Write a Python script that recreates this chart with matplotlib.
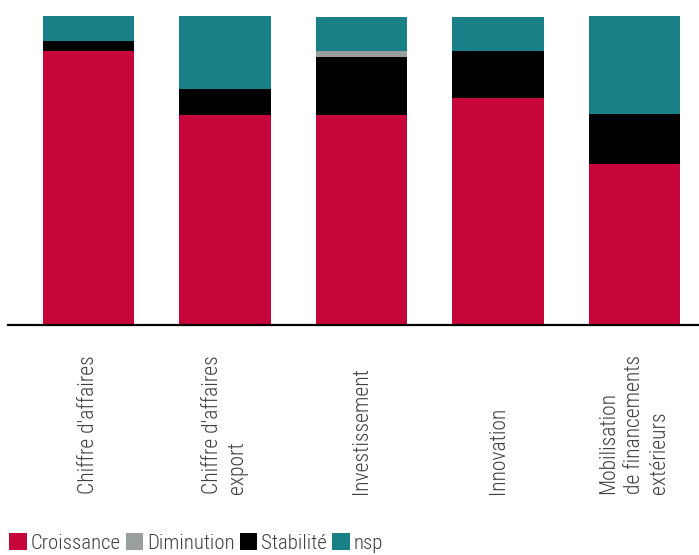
import matplotlib
matplotlib.use("Agg")
import matplotlib.pyplot as plt
from matplotlib import font_manager, transforms
from matplotlib.patches import Patch
import numpy as np

categories = [
    "Chiffre d'affaires",
    "Chiffre d'affaires\nexport",
    "Investissement",
    "Innovation",
    "Mobilisation\nde financements\nextérieurs",
]
croissance = [88.7, 67.9, 67.9, 73.4, 52.2]
diminution = [0.0, 0.0, 1.9, 0.0, 0.0]
stabilite = [3.2, 8.4, 18.8, 15.2, 16.1]
nsp = [8.1, 23.6, 11.0, 11.0, 31.7]

colors = {
    "Croissance": "#c6063a",
    "Diminution": "#99a09b",
    "Stabilité": "#000000",
    "nsp": "#1a8087",
}
values = {
    "Croissance": croissance,
    "Diminution": diminution,
    "Stabilité": stabilite,
    "nsp": nsp,
}
stack_order = ["Croissance", "Stabilité", "Diminution", "nsp"]
legend_order = ["Croissance", "Diminution", "Stabilité", "nsp"]

# pick a narrow sans face if one is available
entries = font_manager.fontManager.ttflist
names = {f.name for f in entries}
font_kw = {"family": "DejaVu Sans"}
for cand in ["Roboto Condensed", "Liberation Sans Narrow", "DejaVu Sans Condensed",
             "Open Sans Condensed", "Noto Sans Condensed"]:
    if cand in names:
        font_kw = {"family": cand, "weight": "light"}
        break
else:
    cond = [f for f in entries if "condensed" in str(f.stretch)]
    if cond:
        font_kw = {"family": cond[0].name, "stretch": "condensed"}

text_color = "#3f3f3f"
W, H = 699, 555
fig = plt.figure(figsize=(W / 100, H / 100), dpi=100)
ax = fig.add_axes([8 / W, (H - 324.7) / H, 691 / W, 308.7 / H])

x = np.arange(len(categories))
bottom = np.zeros(len(categories))
for name in stack_order:
    vals = np.array(values[name])
    ax.bar(x, vals, width=0.667, bottom=bottom, color=colors[name], linewidth=0, zorder=2)
    bottom += vals

ax.set_xlim(-80.5 / 136.5, (699 - 88.5) / 136.5)
ax.set_ylim(0, 100)
ax.axhline(0, color="black", linewidth=1.6, zorder=3, clip_on=False)
for s in ax.spines.values():
    s.set_visible(False)
ax.set_xticks([])
ax.set_yticks([])

trans = transforms.blended_transform_factory(ax.transData, fig.transFigure)
for xi, lab in zip(x, categories):
    ax.text(xi, 1 - 494 / H, lab, transform=trans, rotation=90, ha="center", va="bottom",
            multialignment="left", fontsize=15.5, color=text_color, linespacing=1.28,
            **font_kw)

handles = [Patch(facecolor=colors[n], edgecolor="none", label=n) for n in legend_order]
fig.legend(handles=handles, loc="lower left", bbox_to_anchor=(7 / W, 0.0), ncol=4,
           frameon=False, handlelength=0.85, handleheight=0.85, handletextpad=0.2,
           columnspacing=0.22, borderaxespad=0, borderpad=0.1,
           prop=dict(size=15, **font_kw), labelcolor=text_color)

fig.savefig("out.png", dpi=100)
